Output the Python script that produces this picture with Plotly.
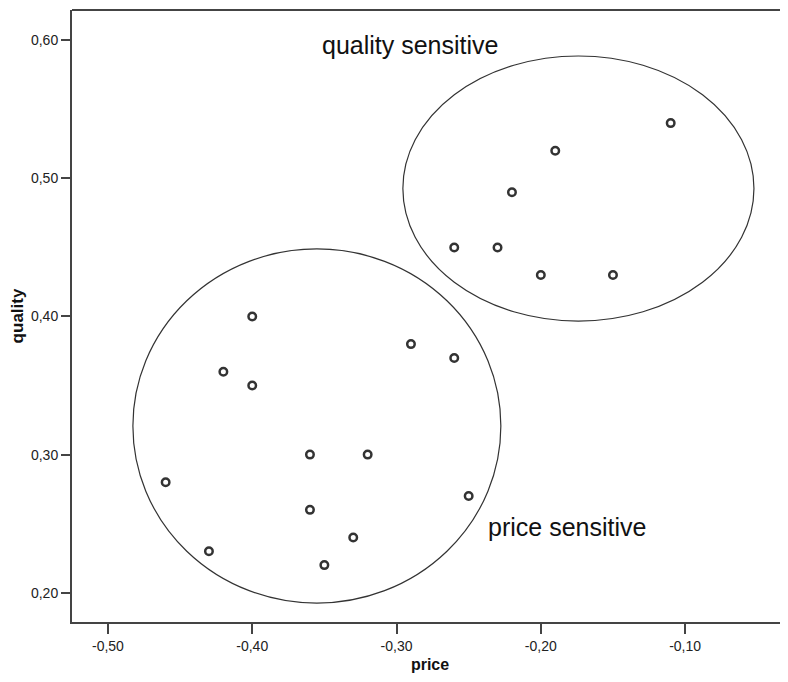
import plotly.graph_objects as go

# data
price = [-0.11, -0.19, -0.22, -0.26, -0.23, -0.20, -0.15,
         -0.40, -0.42, -0.40, -0.29, -0.26, -0.36, -0.32, -0.46, -0.25, -0.36, -0.43, -0.33, -0.35]
quality = [0.54, 0.52, 0.49, 0.45, 0.45, 0.43, 0.43,
           0.40, 0.36, 0.35, 0.38, 0.37, 0.30, 0.30, 0.28, 0.27, 0.26, 0.23, 0.24, 0.22]

x_tickvals = [-0.50, -0.40, -0.30, -0.20, -0.10]
x_ticktext = ["-0,50", "-0,40", "-0,30", "-0,20", "-0,10"]
y_tickvals = [0.20, 0.30, 0.40, 0.50, 0.60]
y_ticktext = ["0,20", "0,30", "0,40", "0,50", "0,60"]

# group ellipses (x0, x1, y0, y1) in data units
quality_group = (-0.2956, -0.0523, 0.3967, 0.5886)
price_group = (-0.4827, -0.2277, 0.1925, 0.4489)

group_labels = ["quality sensitive", "price sensitive"]
label_x = [-0.2907, -0.1819]
label_y = [0.5966, 0.2476]

FONT = "Liberation Sans, Arial, sans-serif"
DARK = "#333333"

fig = go.Figure()
fig.add_trace(go.Scatter(
    x=price, y=quality, mode="markers",
    marker=dict(symbol="circle-open", size=7.5, color=DARK, line=dict(width=2.5, color=DARK)),
    showlegend=False, hoverinfo="x+y",
))

for (x0, x1, y0, y1) in (quality_group, price_group):
    fig.add_shape(type="circle", xref="x", yref="y", x0=x0, x1=x1, y0=y0, y1=y1,
                  line=dict(color=DARK, width=1.2))

# top frame line
fig.add_shape(type="line", xref="paper", yref="paper", x0=0, x1=1, y0=1, y1=1,
              line=dict(color="#444444", width=2))

for t, x, y in zip(group_labels, label_x, label_y):
    fig.add_annotation(x=x, y=y, text=t, showarrow=False, xref="x", yref="y",
                       font=dict(family=FONT, size=25, color="#111111"))

fig.update_layout(
    width=788, height=682,
    margin=dict(l=64, r=8, t=2, b=68),
    paper_bgcolor="white", plot_bgcolor="white",
    font=dict(family=FONT, size=14, color="#222222"),
    xaxis=dict(range=[-0.5249, -0.0287], tickvals=x_tickvals, ticktext=x_ticktext,
               showgrid=False, zeroline=False, showline=True, linecolor="#444444", linewidth=2,
               ticks="outside", ticklen=10, tickwidth=2, tickcolor="#444444",
               tickfont=dict(family=FONT, size=14, color="#222222"),
               title=dict(text="<b>price</b>", font=dict(family=FONT, size=16, color="#111111"), standoff=6)),
    yaxis=dict(range=[0.1788, 0.6219], tickvals=y_tickvals, ticktext=y_ticktext,
               showgrid=False, zeroline=False, showline=True, linecolor="#444444", linewidth=2,
               ticks="outside", ticklen=9, tickwidth=2, tickcolor="#444444",
               tickfont=dict(family=FONT, size=14, color="#222222"),
               title=dict(text="<b>quality</b>", font=dict(family=FONT, size=17, color="#111111"), standoff=8)),
)

fig.write_html("out.html")
